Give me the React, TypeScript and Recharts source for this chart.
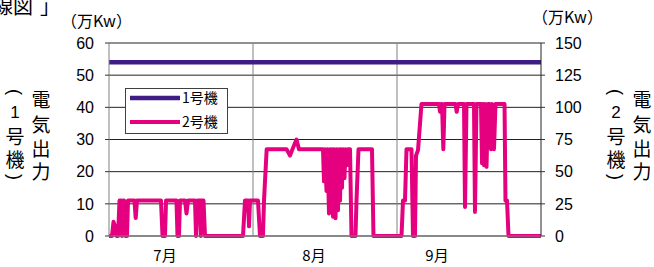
import * as React from "react";
import { LineChart, Line, XAxis, YAxis, CartesianGrid, ReferenceLine } from "recharts";

// x = day position inside the Jul–Sep period (each month drawn as 30 units)
const monthTicks = [11.67, 42.71, 68.33];
const monthLabels = ["7月", "8月", "9月"];
const leftTicks = [0, 10, 20, 30, 40, 50, 60];
const rightTicks = [0, 25, 50, 75, 100, 125, 150];
const monthEdges = [30, 60];

// 1号機 (left axis, 万Kw)
const unit1Days = [0, 90];
const unit1Output = [54, 54];

// 2号機 (right axis, 万Kw)
const unit2Days = [
  0, 0.63, 0.94, 1.25, 1.56, 1.88, 2.19, 2.5, 2.71, 2.92, 3.13, 3.44, 3.75, 3.96, 5.31, 5.56, 5.83,
  10.83, 11.15, 11.67, 11.88, 14.06, 14.27, 14.58, 14.79, 15.83, 16.15, 16.46, 17.92, 18.13, 18.44,
  18.96, 19.13, 19.27, 19.69, 20.0, 27.92, 28.33, 28.96, 29.17, 29.38, 31.04, 31.46, 32.08, 32.29,
  32.85, 36.98, 37.71, 38.23, 39.06, 39.58, 44.58, 44.79, 45.0, 45.31, 45.52, 45.83, 46.04, 46.25,
  46.46, 46.67, 46.88, 47.19, 47.4, 47.71, 47.92, 48.13, 48.33, 48.54, 48.75, 49.06, 49.27, 49.58,
  49.79, 50.21, 50.52, 51.35, 51.56, 51.98, 54.79, 55.1, 60.94, 61.25, 61.67, 61.98, 63.02, 63.33,
  63.75, 63.96, 64.38, 65.1, 68.75, 68.96, 69.17, 69.38, 69.65, 69.9, 72.19, 72.44, 72.71, 73.96,
  74.17, 74.48, 76.04, 76.25, 76.56, 77.5, 77.71, 77.92, 78.13, 78.33, 78.65, 78.96, 79.27, 79.58,
  79.79, 80.21, 80.52, 82.4, 82.6, 82.92, 83.23, 90,
];
const unit2Output = [
  0, 0, 11, 7.5, 0, 0, 27.5, 27.5, 0, 27.5, 27.5, 0, 0, 27.5, 27.5, 14, 27.5,
  27.5, 0, 0, 27.5, 27.5, 0, 0, 27.5, 27.5, 17.5, 27.5, 27.5, 0, 27.5,
  27.5, 0, 27.5, 27.5, 0, 0, 27.5, 27.5, 7.5, 27.5, 27.5, 0, 0, 27.5,
  67.5, 67.5, 62.5, 67.5, 75, 67.5, 67.5, 42.5, 67.5, 35, 67.5, 17.5, 67.5, 22.5,
  67.5, 15, 67.5, 13.75, 67.5, 20, 67.5, 27.5, 67.5, 37.5, 67.5, 45, 67.5, 55,
  67.5, 67.5, 0, 0, 27.5, 67.5, 67.5, 0, 0, 27.5, 27.5, 67.5, 67.5, 0,
  0, 62.5, 66.75, 102.5, 102.5, 96.5, 102.5, 102.5, 67.5, 102.5, 102.5, 96.5, 102.5, 102.5,
  22.5, 102.5, 102.5, 18.75, 102.5, 102.5, 56.5, 102.5, 55, 102.5, 53.75, 102.5, 102.5, 67.5,
  102.5, 67.5, 102.5, 102.5, 27.5, 27.5, 0, 0,
];

const unit1Data = unit1Days.map((x, i) => ({ x, v: unit1Output[i] }));
const unit2Data = unit2Days.map((x, i) => ({ x, v: unit2Output[i] }));

const jp = '"Noto Sans CJK JP", sans-serif';
const num = '"Liberation Sans", Arial, sans-serif';

// vertical axis title, one character per row; "(" / ")" are turned to lie flat
const VLabel = ({ x, chars }: { x: number; chars: [string, number][] }) => (
  <>
    {chars.map(([c, y], i) => {
      const paren = c === "(" || c === ")";
      const digit = /[0-9]/.test(c);
      return (
        <text key={i} x={x} y={y} textAnchor="middle" dominantBaseline="central"
          transform={paren ? `rotate(90 ${x} ${y})` : undefined}
          fontSize={paren ? 18 : digit ? 17 : 19} fontFamily={paren || digit ? num : jp} fill="#000">
          {c}
        </text>
      );
    })}
  </>
);

export default function App() {
  return (
    <div style={{ position: "absolute", left: 0, top: 0, width: 654, height: 267, background: "#fff" }}>
      <LineChart width={654} height={267} margin={{ top: 43, right: 0, bottom: 0, left: 0 }}>
        <CartesianGrid vertical={false} stroke="#222" strokeWidth={1} />
        <XAxis dataKey="x" type="number" domain={[0, 90]} ticks={monthTicks}
          tickFormatter={(v: number) => monthLabels[monthTicks.indexOf(v)]}
          tickLine={false} tickSize={0} tickMargin={14} height={31}
          axisLine={{ stroke: "#808080" }}
          tick={{ fontSize: 15, fill: "#000", fontFamily: jp }} />
        <YAxis domain={[0, 60]} ticks={leftTicks} width={109} interval={0}
          axisLine={{ stroke: "#808080" }} tickLine={{ stroke: "#333" }} tickSize={4} tickMargin={11}
          tick={{ fontSize: 16, fill: "#000", fontFamily: num }} />
        <YAxis yAxisId="right" orientation="right" domain={[0, 150]} ticks={rightTicks} width={113} interval={0}
          axisLine={{ stroke: "#222" }} tickLine={{ stroke: "#333" }} tickSize={4} tickMargin={10}
          tick={{ fontSize: 16, fill: "#000", fontFamily: num, textAnchor: "start" }} />
        {monthEdges.map((m) => (
          <ReferenceLine key={m} x={m} stroke="#808080" />
        ))}
        <Line data={unit1Data} dataKey="v" type="linear" stroke="#3F1D84" strokeWidth={4.5}
          dot={false} isAnimationActive={false} />
        <Line data={unit2Data} dataKey="v" yAxisId="right" type="linear" stroke="#E4007F" strokeWidth={4}
          strokeLinejoin="round" dot={false} isAnimationActive={false} />
      </LineChart>
      <svg width={654} height={267} style={{ position: "absolute", left: 0, top: 0, pointerEvents: "none" }}>
        <text x={-7} y={14} fontSize={20} fontFamily={jp} fill="#000">線図</text>
        <text x={40} y={14} fontSize={20} fontFamily={jp} fill="#000">」</text>
        <text x={61} y={27} fontSize={16} fontFamily={jp} fill="#000">（万Kw）</text>
        <text x={532} y={23} fontSize={16} fontFamily={jp} fill="#000">（万Kw）</text>
        <VLabel x={15} chars={[["(", 92], ["1", 112], ["号", 135], ["機", 158], [")", 177]]} />
        <VLabel x={41} chars={[["電", 98], ["気", 123], ["出", 147], ["力", 170]]} />
        <VLabel x={616} chars={[["(", 92], ["2", 112], ["号", 135], ["機", 158], [")", 177]]} />
        <VLabel x={642} chars={[["電", 98], ["気", 123], ["出", 147], ["力", 170]]} />
        <rect x={125.5} y={88.5} width={102} height={45} fill="#fff" stroke="#404040" />
        <line x1={130} x2={180} y1={98} y2={98} stroke="#3F1D84" strokeWidth={4.5} />
        <line x1={130} x2={180} y1={122} y2={122} stroke="#E4007F" strokeWidth={4} />
        <text x={182} y={103} fontSize={14} fontFamily={jp} fill="#000">1号機</text>
        <text x={182} y={127} fontSize={14} fontFamily={jp} fill="#000">2号機</text>
      </svg>
    </div>
  );
}
